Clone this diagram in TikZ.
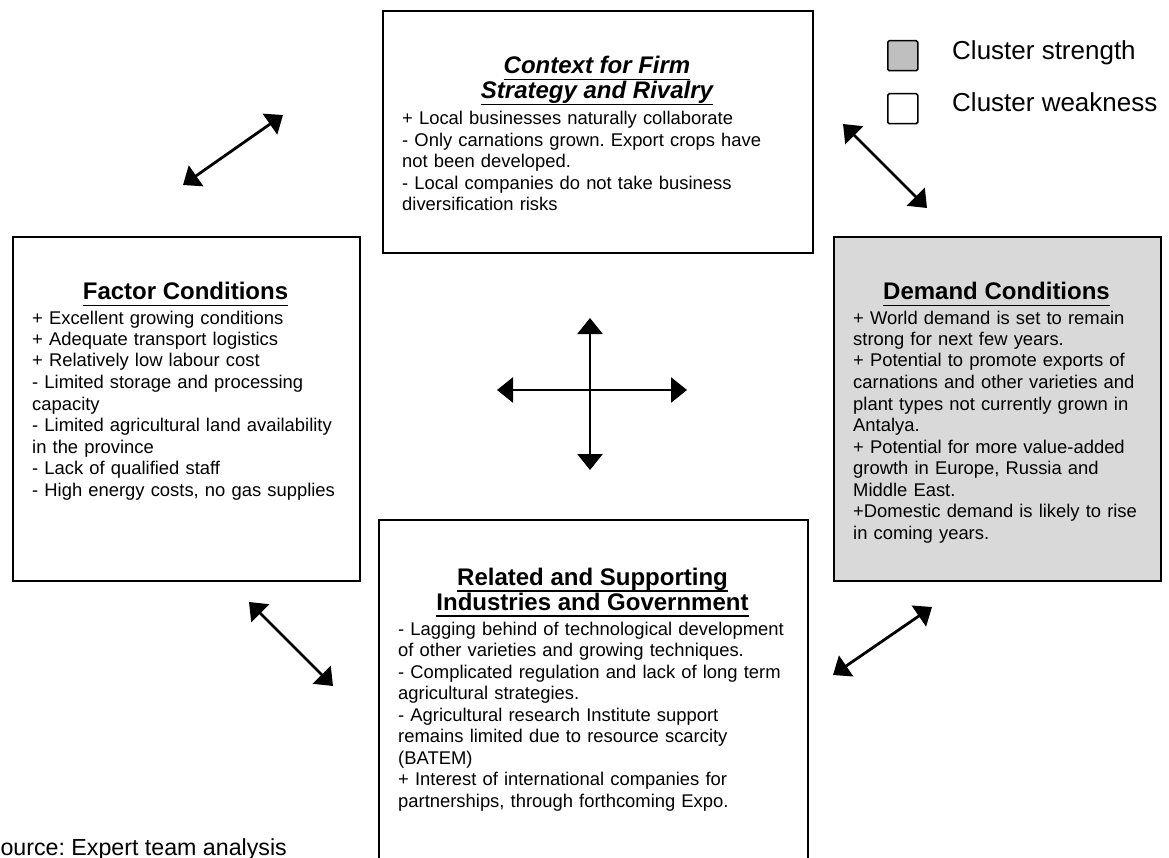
\documentclass[tikz,border=0pt]{standalone}
\usepackage{fontspec}
\setmainfont{Liberation Sans}
\usetikzlibrary{arrows.meta}
\frenchspacing
\newsavebox\hdbox
\newcommand\hdline[1]{\leavevmode\sbox\hdbox{#1}\hbox{\rlap{\usebox\hdbox}\rule[-6.5pt]{\wd\hdbox}{1.8pt}}}
\begin{document}
\begin{tikzpicture}[x=1pt,y=-1pt,
  box/.style={draw=black,line width=1.6pt,anchor=north west,inner sep=0pt},
  body/.style={anchor=base west,inner sep=0pt,text width=440pt,align=left,font=\fontsize{18.4}{21.5}\selectfont},
  ttl/.style={anchor=base,inner sep=0pt,font=\fontsize{24}{25}\selectfont\bfseries},
  dbl/.style={line width=2.8pt,{Triangle[length=16pt,width=25pt]}-{Triangle[length=16pt,width=25pt]}},
  legbox/.style={draw=black,line width=1.5pt,rounded corners=1.5pt,minimum size=30pt,inner sep=0pt,anchor=north west},
  legtxt/.style={anchor=base west,inner sep=0pt,font=\fontsize{26}{30}\selectfont}]
\useasboundingbox (0,0) rectangle (1169,858);

% boxes
\node[box,minimum width=430pt,minimum height=242pt] (ctx) at (382,10) {};
\node[box,minimum width=347pt,minimum height=344pt] (fac) at (12,236) {};
\node[box,fill=black!15,minimum width=327pt,minimum height=344pt] (dem) at (833,236) {};
\node[box,minimum width=429pt,minimum height=400pt] (rel) at (378,519) {};

% context box
\node[ttl] (ctxt1) at (597,74) {\itshape\hdline{Context for Firm}};
\node[ttl] (ctxt2) at (597,99) {\itshape\hdline{Strategy and Rivalry}};
\node[body] (ctxb) at (402,125) {+ Local businesses naturally collaborate\\
- Only carnations grown. Export crops have\\
not been developed.\\
- Local companies do not take business\\
diversification risks};

% factor box
\node[ttl] (fact) at (185.5,300) {\hdline{Factor Conditions}};
\node[body] (facb) at (32,324) {+ Excellent growing conditions\\
+ Adequate transport logistics\\
+ Relatively low labour cost\\
- Limited storage and processing\\
capacity\\
- Limited agricultural land availability\\
in the province\\
- Lack of qualified staff\\
- High energy costs, no gas supplies};

% demand box
\node[ttl] (demt) at (996.5,300) {\hdline{Demand Conditions}};
\node[body] (demb) at (853,324) {+ World demand is set to remain\\
strong for next few years.\\
+ Potential to promote exports of\\
carnations and other varieties and\\
plant types not currently grown in\\
Antalya.\\
+ Potential for more value-added\\
growth in Europe, Russia and\\
Middle East.\\
+Domestic demand is likely to rise\\
in coming years.};

% related box
\node[ttl] (relt1) at (592.5,585) {\hdline{Related and Supporting}};
\node[ttl] (relt2) at (592.5,610) {\hdline{Industries and Government}};
\node[body] (relb) at (398,635) {- Lagging behind of technological development\\
of other varieties and growing techniques.\\
- Complicated regulation and lack of long term\\
agricultural strategies.\\
- Agricultural research Institute support\\
remains limited due to resource scarcity\\
(BATEM)\\
+ Interest of international companies for\\
partnerships, through forthcoming Expo.};

% legend
\node[legbox,fill=black!25] (ls) at (887,40) {};
\node[legbox,fill=white] (lw) at (887,93) {};
\node[legtxt] (lst) at (952,60) {Cluster strength};
\node[legtxt] (lwt) at (952,112) {Cluster weakness};

% source
\node[anchor=base east,inner sep=0pt,font=\fontsize{23.2}{27}\selectfont] (src) at (287,855) {Source: Expert team analysis};

% arrow end points
\coordinate (tl1) at (183,185); \coordinate (tl2) at (283,115);
\coordinate (tr1) at (843,124); \coordinate (tr2) at (927,208);
\coordinate (bl1) at (249,602); \coordinate (bl2) at (333,686);
\coordinate (br1) at (833,675); \coordinate (br2) at (932,607);
\coordinate (cu) at (590,318); \coordinate (cd) at (590,470);
\coordinate (cl) at (497,390); \coordinate (cr) at (687,390);

\draw[dbl] (tl1) -- (tl2);
\draw[dbl] (tr1) -- (tr2);
\draw[dbl] (bl1) -- (bl2);
\draw[dbl] (br1) -- (br2);
\draw[dbl] (cu) -- (cd);
\draw[dbl] (cl) -- (cr);
\end{tikzpicture}
\end{document}
